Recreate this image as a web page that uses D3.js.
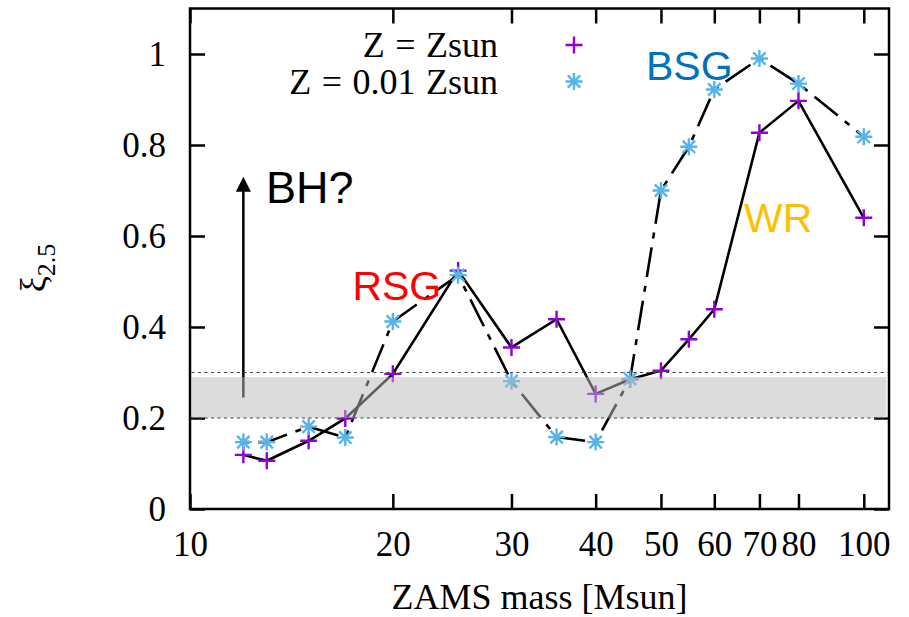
<!DOCTYPE html>
<html>
<head>
<meta charset="utf-8">
<script src="https://cdn.jsdelivr.net/npm/d3@7"></script>
<style>
  body { margin: 0; background: #fff; }
  svg { display: block; }
</style>
</head>
<body>
<svg id="chart"></svg>
<script>
// ZAMS masses and compactness values
const masses = [12, 13, 15, 17, 20, 25, 30, 35, 40, 45, 50, 55, 60, 70, 80, 100];
const xiSun  = [0.119, 0.106, 0.150, 0.199, 0.297, 0.524, 0.355, 0.417, 0.253, 0.285, 0.304, 0.373, 0.439, 0.827, 0.897, 0.640];
const xiLow  = [0.147, 0.147, 0.181, 0.157, 0.412, 0.514, 0.281, 0.158, 0.147, 0.286, 0.700, 0.796, 0.922, 0.990, 0.935, 0.818];

const xTicks = [10, 20, 30, 40, 50, 60, 70, 80, 100];
const yTicks = [0, 0.2, 0.4, 0.6, 0.8, 1];
const seriesNames = ["Z = Zsun", "Z = 0.01 Zsun"];

// shaded band and its dotted limits
const band = [0.2, 0.29];
const bandLimits = [0.2, 0.3];
const bandMassRange = [10, 108];

// arrow "BH?" (mass, from xi, to xi)
const arrowMass = 12, arrowFrom = 0.245, arrowTo = 0.73;

// text labels in data coordinates
const notes = [
  { text: "BH?", m: 12.97, v: 0.672, color: "#000", size: 45, anchor: "start" },
  { text: "RSG", m: 23.6,  v: 0.459, color: "#ff0000", size: 41, anchor: "end" },
  { text: "BSG", m: 47.5,  v: 0.943, color: "#0072bd", size: 41, anchor: "start" },
  { text: "WR",  m: 66.4,  v: 0.609, color: "#ffbf00", size: 41, anchor: "start" }
];

const width = 909;
const height = 617;
const purple = "#9400d3";
const sky = "#56b4e9";
const serif = "'Liberation Serif', 'Times New Roman', serif";
const sans = "'Liberation Sans', Arial, sans-serif";

const svg = d3.select("#chart")
    .attr("width", width)
    .attr("height", height);

const x = d3.scaleLog().domain([10, 109]).range([190, 889]);
const y = d3.scaleLinear().domain([0, 1.1]).range([509, 8.5]);

const plotLeft = x.range()[0], plotRight = x.range()[1];
const plotTop = y.range()[1], plotBottom = y.range()[0];

// axes with inward ticks
function styleAxis(g) {
    g.select(".domain").remove();
    g.selectAll(".tick line").attr("stroke", "#000").attr("stroke-width", 2.5);
    g.selectAll(".tick text")
        .attr("fill", "#000")
        .style("font-family", serif)
        .style("font-size", "35px");
}

svg.append("g")
    .attr("transform", `translate(0,${plotBottom})`)
    .call(d3.axisBottom(x).tickValues(xTicks).tickFormat(d3.format("d"))
        .tickSizeInner(-15).tickSizeOuter(0).tickPadding(22))
    .call(styleAxis);

svg.append("g")
    .attr("transform", `translate(0,${plotTop})`)
    .call(d3.axisTop(x).tickValues(xTicks).tickFormat("")
        .tickSizeInner(-15).tickSizeOuter(0))
    .call(styleAxis);

svg.append("g")
    .attr("transform", `translate(${plotLeft},0)`)
    .call(d3.axisLeft(y).tickValues(yTicks).tickFormat(d3.format("~g"))
        .tickSizeInner(-15).tickSizeOuter(0).tickPadding(24))
    .call(styleAxis);

svg.append("g")
    .attr("transform", `translate(${plotRight},0)`)
    .call(d3.axisRight(y).tickValues(yTicks).tickFormat("")
        .tickSizeInner(-15).tickSizeOuter(0))
    .call(styleAxis);

// plot border
svg.append("rect")
    .attr("x", plotLeft)
    .attr("y", plotTop)
    .attr("width", plotRight - plotLeft)
    .attr("height", plotBottom - plotTop)
    .attr("fill", "none")
    .attr("stroke", "#000")
    .attr("stroke-width", 2.5);

// axis titles
svg.append("text")
    .attr("x", (plotLeft + plotRight) / 2)
    .attr("y", 609)
    .attr("text-anchor", "middle")
    .style("font-family", serif)
    .style("font-size", "36px")
    .text("ZAMS mass [Msun]");

const ylab = svg.append("text")
    .attr("transform", "translate(45,268) rotate(-90)")
    .attr("text-anchor", "middle")
    .style("font-family", serif)
    .style("font-size", "36px");
ylab.append("tspan").text("ξ");
ylab.append("tspan").attr("dy", 10).style("font-size", "26px").text("2.5");

// lines
const line = (vals) => d3.line()
    .x((d, i) => x(masses[i]))
    .y(d => y(d))(vals);

svg.append("path")
    .attr("d", line(xiSun))
    .attr("fill", "none")
    .attr("stroke", "#000")
    .attr("stroke-width", 2.6)
    .attr("stroke-linejoin", "miter");

svg.append("path")
    .attr("d", line(xiLow))
    .attr("fill", "none")
    .attr("stroke", "#000")
    .attr("stroke-width", 2.6)
    .attr("stroke-dasharray", "6,9,30,9");

// markers
const plusPath = "M-8.5,0H8.5M0,-8.5V8.5";
const starPath = "M-8.5,0H8.5M0,-8.5V8.5M-6.2,-6.2L6.2,6.2M-6.2,6.2L6.2,-6.2";

svg.append("g").selectAll("path")
    .data(xiSun)
    .join("path")
    .attr("transform", (d, i) => `translate(${x(masses[i])},${y(d)})`)
    .attr("d", plusPath)
    .attr("stroke", purple)
    .attr("stroke-width", 2.4)
    .attr("fill", "none");

svg.append("g").selectAll("path")
    .data(xiLow)
    .join("path")
    .attr("transform", (d, i) => `translate(${x(masses[i])},${y(d)})`)
    .attr("d", starPath)
    .attr("stroke", sky)
    .attr("stroke-width", 2.4)
    .attr("fill", "none");

// arrow
svg.append("line")
    .attr("x1", x(arrowMass)).attr("x2", x(arrowMass))
    .attr("y1", y(arrowFrom)).attr("y2", y(arrowTo) + 10)
    .attr("stroke", "#000")
    .attr("stroke-width", 2.5);

svg.append("path")
    .attr("d", `M${x(arrowMass)},${y(arrowTo)}l-7.5,15h15z`)
    .attr("fill", "#000");

// annotations
svg.append("g").selectAll("text")
    .data(notes)
    .join("text")
    .attr("x", d => x(d.m))
    .attr("y", d => y(d.v))
    .attr("text-anchor", d => d.anchor)
    .attr("fill", d => d.color)
    .style("font-family", sans)
    .style("font-size", d => d.size + "px")
    .text(d => d.text);

// legend
const legend = svg.append("g");
seriesNames.forEach((name, i) => {
    const ly = 45 + i * 36.5;
    legend.append("text")
        .attr("x", 498)
        .attr("y", ly + 12)
        .attr("text-anchor", "end")
        .style("font-family", serif)
        .style("font-size", "36px")
        .style("word-spacing", "1.5px")
        .text(name);
    legend.append("path")
        .attr("transform", `translate(574,${ly})`)
        .attr("d", i === 0 ? plusPath : starPath)
        .attr("stroke", i === 0 ? purple : sky)
        .attr("stroke-width", 2.4)
        .attr("fill", "none");
});

// translucent band drawn over everything
svg.append("rect")
    .attr("x", x(bandMassRange[0]) + 1.5)
    .attr("y", y(band[1]))
    .attr("width", x(bandMassRange[1]) - x(bandMassRange[0]) - 1.5)
    .attr("height", y(band[0]) - y(band[1]))
    .attr("fill", "rgb(187,187,187)")
    .attr("fill-opacity", 0.51);

svg.append("g").selectAll("line")
    .data(bandLimits)
    .join("line")
    .attr("x1", plotLeft + 1.5)
    .attr("x2", plotRight - 1.5)
    .attr("y1", d => y(d))
    .attr("y2", d => y(d))
    .attr("stroke", "#444")
    .attr("stroke-width", 1.2)
    .attr("stroke-dasharray", "3,3.5");
</script>
</body>
</html>
